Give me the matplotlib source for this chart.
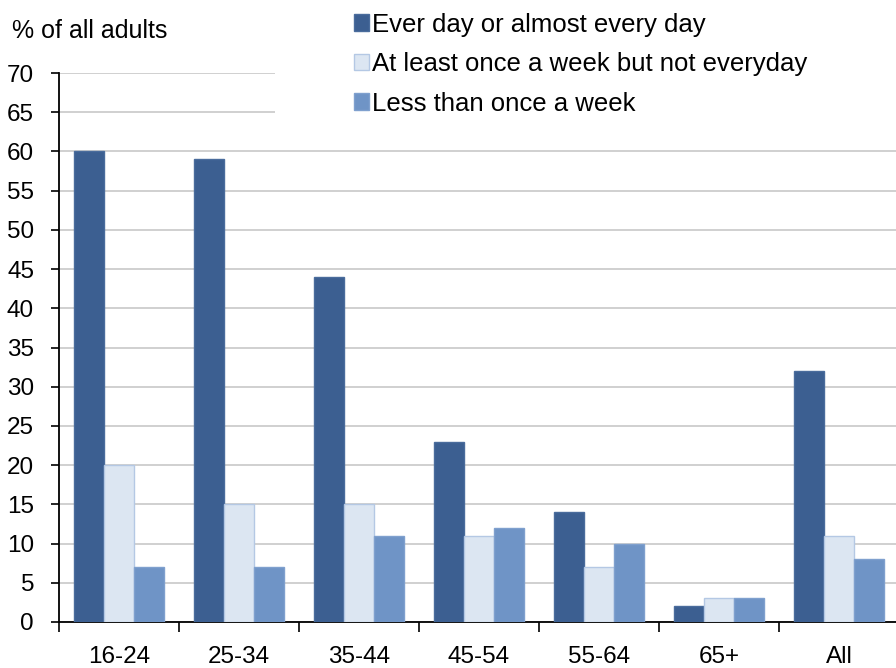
import matplotlib
matplotlib.use("Agg")
import matplotlib.pyplot as plt
from matplotlib.patches import Rectangle
import numpy as np

age_groups = ["16-24", "25-34", "35-44", "45-54", "55-64", "65+", "All"]
series_names = [
    "Ever day or almost every day",
    "At least once a week but not everyday",
    "Less than once a week",
]
every_day = [60, 59, 44, 23, 14, 2, 32]
weekly = [20, 15, 15, 11, 7, 3, 11]
less_weekly = [7, 7, 11, 12, 10, 3, 8]

fills = ["#3C5F91", "#DCE6F2", "#6F94C6"]
edges = ["#4A6C9C", "#B4C8E4", "#7FA0CE"]

plt.rcParams["font.family"] = ["Liberation Sans", "DejaVu Sans"]
plt.rcParams["font.size"] = 17.5

fig = plt.figure(figsize=(8.96, 6.68), dpi=100)
W, H = 896, 668
# plot area runs a little past the right edge of the canvas
ax = fig.add_axes([59 / W, (H - 622) / H, 840 / W, (622 - 73) / H])

x = np.arange(len(age_groups))
width = 0.25
for i, vals in enumerate([every_day, weekly, less_weekly]):
    ax.bar(x + (i - 1) * width, vals, width, color=fills[i], edgecolor=edges[i],
           linewidth=1.0, label=series_names[i], zorder=3)

ax.set_xlim(-0.5, len(age_groups) - 0.5)
ax.set_ylim(0, 70)
ax.set_yticks(range(0, 71, 5))
ax.yaxis.grid(True, color="#C4C4C4", linewidth=1.1, zorder=0)
ax.set_axisbelow(True)

ax.set_xticks(x)
ax.set_xticklabels(age_groups)
ax.set_xticks(np.arange(-0.5, len(age_groups), 1), minor=True)
ax.tick_params(axis="x", which="major", length=0, pad=17)
ax.tick_params(axis="x", which="minor", length=7, width=1.2, direction="out")
ax.tick_params(axis="y", length=6, width=1.2, direction="out", pad=12)

for side in ["top", "right"]:
    ax.spines[side].set_visible(False)
for side in ["left", "bottom"]:
    ax.spines[side].set_linewidth(1.3)
    ax.spines[side].set_color("black")

fig.text(12 / W, 1 - 31 / H, "% of all adults", ha="left", va="center", fontsize=18)

# white backing behind the legend hides the top gridlines
fig.patches.append(Rectangle((275 / W, 1 - 128 / H), 1, 128 / H,
                             transform=fig.transFigure, facecolor="white",
                             edgecolor="none", zorder=2))
leg = fig.legend(loc="upper left", bbox_to_anchor=(346 / W, 1 - 5 / H),
                 frameon=False, handlelength=0.6, handleheight=0.6,
                 handletextpad=0.12, labelspacing=0.6, fontsize=18.5,
                 borderaxespad=0, borderpad=0.3)
leg.set_zorder(3)

fig.savefig("out.png", dpi=100)
